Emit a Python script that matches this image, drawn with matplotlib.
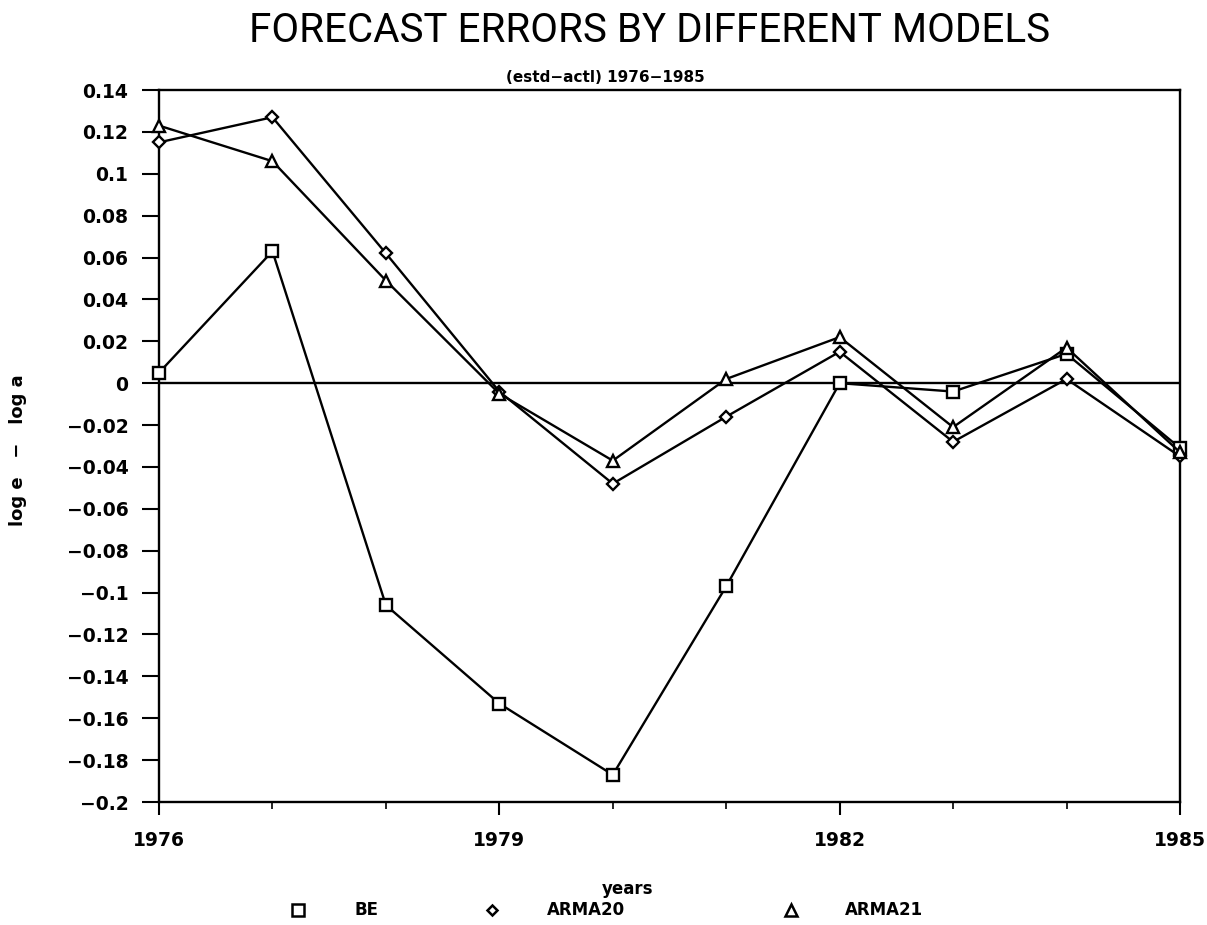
import matplotlib
matplotlib.use("Agg")
import matplotlib.pyplot as plt
from matplotlib.lines import Line2D

years = [1976, 1977, 1978, 1979, 1980, 1981, 1982, 1983, 1984, 1985]
be = [0.005, 0.063, -0.106, -0.153, -0.187, -0.097, 0.000, -0.004, 0.014, -0.031]
arma20 = [0.115, 0.127, 0.062, -0.004, -0.048, -0.016, 0.015, -0.028, 0.002, -0.035]
arma21 = [0.123, 0.106, 0.049, -0.005, -0.037, 0.002, 0.022, -0.021, 0.017, -0.033]
series_names = ["BE", "ARMA20", "ARMA21"]
yticks = [0.14, 0.12, 0.1, 0.08, 0.06, 0.04, 0.02, 0, -0.02, -0.04, -0.06, -0.08,
          -0.1, -0.12, -0.14, -0.16, -0.18, -0.2]
ytick_labels = ["0.14", "0.12", "0.1", "0.08", "0.06", "0.04", "0.02", "0", "\u22120.02",
                "\u22120.04", "\u22120.06", "\u22120.08", "\u22120.1", "\u22120.12",
                "\u22120.14", "\u22120.16", "\u22120.18", "\u22120.2"]
xmajor = [1976, 1979, 1982, 1985]

W, H = 1207, 925
fig = plt.figure(figsize=(W / 100, H / 100), dpi=100)
ax = fig.add_axes([159 / W, 1 - 802 / H, (1180 - 159) / W, (802 - 90) / H])

lw = 1.7
mk = dict(color="black", linewidth=lw, markerfacecolor="white",
          markeredgecolor="black", markeredgewidth=1.7, clip_on=False, zorder=3)
ax.plot(years, be, marker="s", markersize=8, **mk)
ax.plot(years, arma20, marker="D", markersize=6, **mk)
ax.plot(years, arma21, marker="^", markersize=9, **mk)
ax.axhline(0, color="black", linewidth=1.7, zorder=2)

ax.set_xlim(1976, 1985)
ax.set_ylim(-0.2, 0.14)
ax.set_yticks(yticks)
ax.set_yticklabels(ytick_labels)
ax.set_xticks(xmajor)
ax.set_xticklabels([str(y) for y in xmajor])
ax.set_xticks(years, minor=True)
ax.tick_params(axis="y", direction="out", length=12, width=1.5, pad=10, labelsize=13.5)
ax.tick_params(axis="x", which="major", direction="out", length=9, width=1.5, pad=12, labelsize=13.5)
ax.tick_params(axis="x", which="minor", direction="out", length=5, width=1.2)
for lab in ax.get_xticklabels() + ax.get_yticklabels():
    lab.set_fontweight("bold")
for s in ax.spines.values():
    s.set_linewidth(1.7)

fig.text(650 / W, 1 - 31 / H, "FORECAST ERRORS BY DIFFERENT MODELS",
         ha="center", va="center", fontsize=29, family="Roboto", fontweight="normal")
fig.text(605 / W, 1 - 77 / H, "(estd\u2212actl) 1976\u22121985", ha="center", va="center",
         fontsize=11, fontweight="bold")
fig.text(18 / W, 1 - 450 / H, "log e   \u2212   log a", rotation=90, ha="center", va="center",
         fontsize=13, fontweight="bold")
fig.text(628 / W, 1 - 889 / H, "years", ha="center", va="center", fontsize=12, fontweight="bold")

ly = 1 - 910 / H
markers = ["s", "D", "^"]
msizes = [8, 5.5, 8]
mx = [298, 492, 791]
tx = [354, 547, 845]
for name, m, ms, x0, x1 in zip(series_names, markers, msizes, mx, tx):
    fig.add_artist(Line2D([x0 / W], [ly], marker=m, markersize=ms, markerfacecolor="white",
                          markeredgecolor="black", markeredgewidth=1.8, linestyle="none",
                          transform=fig.transFigure))
    fig.text(x1 / W, ly, name, ha="left", va="center", fontsize=12, fontweight="bold")

fig.savefig("out.png", dpi=100)
